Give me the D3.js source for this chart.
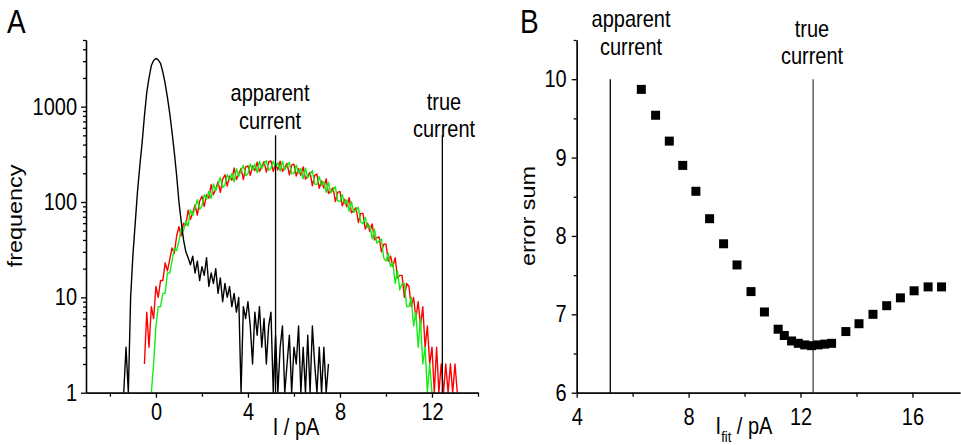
<!DOCTYPE html>
<html>
<head>
<meta charset="utf-8">
<script src="https://cdn.jsdelivr.net/npm/d3@7"></script>
<style>
  body { margin: 0; background: #fff; }
  svg { display: block; }
  text { font-family: "Liberation Sans", Arial, sans-serif; fill: #000; }
</style>
</head>
<body>
<div id="chart"></div>
<script>
/* Panel A: histograms, counts per 0.1 pA bin */
const blackStart = -1.4;
const blackCounts = [
  0, 3, 1, 10, 28, 60, 130, 240, 420, 800, 1400, 2000, 2700, 3050, 3200, 3100,
  2850, 2300, 1750, 1250, 850, 540, 330, 190, 100, 62, 40, 30, 26, 22,
  27, 18, 24, 15, 21, 17, 26, 13, 18, 14, 20, 11, 16, 9, 14, 10, 13, 8, 11, 7,
  10, 1, 8, 6, 9, 5, 2, 7, 4, 8, 3, 6, 2, 5, 7, 1, 4, 0, 3, 5,
  1, 2, 4, 0, 3, 2, 5, 0, 3, 1, 4, 0, 5, 2, 0, 3, 1, 3, 0, 2
];

const redStart = -0.5;
const redCounts = [
  2, 7, 3, 8, 6,
  13, 10, 15, 15, 23, 19, 25, 33, 29, 44,
  55, 44, 60, 57, 82, 66, 77, 93, 73, 102,
  115, 90, 119, 110, 152, 119, 138, 163, 126, 174,
  193, 147, 187, 169, 227, 172, 196, 225, 172, 232,
  240, 190, 239, 213, 262, 209, 235, 265, 206, 263,
  270, 209, 254, 217, 268, 209, 230, 254, 192, 243,
  249, 187, 223, 191, 233, 174, 188, 205, 148, 190,
  196, 139, 166, 140, 175, 123, 131, 141, 101, 126,
  129, 91, 107, 89, 111, 77, 82, 87, 61, 76,
  76, 52, 60, 49, 59, 40, 42, 43, 30, 36,
  36, 24, 27, 21, 26, 16, 17, 17, 10, 14,
  13, 8, 10, 6, 9, 5, 8, 3, 5, 2,
  3, 1, 3, 0, 2, 1, 2, 0, 2, 0, 2, 0
];

const greenStart = -0.2;
const greenCounts = [
  0, 2,
  5, 8, 8, 11, 11, 18, 18, 24, 33, 31,
  39, 53, 50, 63, 56, 83, 72, 87, 106, 84,
  90, 119, 107, 129, 109, 155, 131, 154, 181, 142,
  151, 194, 170, 199, 163, 224, 186, 213, 242, 189,
  198, 251, 217, 250, 202, 267, 223, 251, 272, 215,
  225, 268, 230, 260, 211, 267, 218, 240, 260, 198,
  200, 243, 201, 224, 175, 228, 179, 194, 214, 154,
  153, 184, 150, 164, 126, 161, 125, 133, 145, 103,
  101, 120, 97, 105, 80, 101, 78, 82, 88, 62,
  59, 69, 54, 57, 41, 52, 37, 39, 41, 26,
  24, 29, 21, 23, 14, 19, 12, 14, 14, 8,
  8, 10, 5, 7, 3, 6, 2, 3, 0, 2,
  0
];
const binWidth = 0.1;

const freqTicks = [1, 10, 100, 1000];
const currentTicksA = [0, 4, 8, 12];

/* Panel B: error sum vs fitted current */
const fitCurrent = [
  6.31, 6.82, 7.31, 7.79, 8.26, 8.75, 9.25, 9.73, 10.23, 10.71,
  11.2, 11.42, 11.68, 11.92, 12.15, 12.39, 12.63, 12.87, 13.11,
  13.62, 14.09, 14.59, 15.08, 15.57, 16.06, 16.56, 17.04
];
const errorSum = [
  9.87, 9.54, 9.21, 8.9, 8.57, 8.22, 7.9, 7.63, 7.29, 7.03,
  6.81, 6.73, 6.66, 6.63, 6.61, 6.6, 6.61, 6.62, 6.63,
  6.78, 6.88, 7.0, 7.11, 7.21, 7.3, 7.35, 7.35
];
const errorTicks = [6, 7, 8, 9, 10];
const currentTicksB = [4, 8, 12, 16];

const apparentCurrent = 5.2;
const trueCurrent = 12.45;

const width = 961;
const height = 445;
const stretch = 1.17; // text in the figure is a bit taller than wide

const svg = d3
  .select("#chart")
  .append("svg")
  .attr("width", width)
  .attr("height", height);

function addText(x, y, str, opts = {}) {
  const rot = opts.rotate ? " rotate(-90)" : "";
  return svg
    .append("text")
    .attr("transform", `translate(${x},${y}) scale(1,${stretch})${rot}`)
    .attr("text-anchor", opts.anchor || "middle")
    .attr("font-size", opts.size || 20)
    .text(str);
}

function styleAxis(g) {
  g.selectAll("path, line").attr("stroke", "#000").attr("stroke-width", 1.3);
  g.selectAll("text")
    .attr("font-size", 20)
    .attr("fill", "#000")
    .attr("font-family", null)
    .attr("transform", `scale(1,${stretch})`);
}

function toSeries(start, counts) {
  return counts.map((c, i) => ({ x: start + i * binWidth, y: Math.max(c, 1) }));
}

/* ---------- Panel A ---------- */
const xA = d3.scaleLinear().domain([-3.04, 14]).range([86, 478]);
const yA = d3.scaleLog().domain([1, 5000]).range([392.7, 40]);

svg
  .append("defs")
  .append("clipPath")
  .attr("id", "clipA")
  .append("rect")
  .attr("x", 86)
  .attr("y", 40)
  .attr("width", 392)
  .attr("height", 352.7);

const lineA = d3
  .line()
  .x((d) => xA(d.x))
  .y((d) => yA(d.y));

const curves = svg.append("g").attr("clip-path", "url(#clipA)");
[
  [toSeries(redStart, redCounts), "#ff0000"],
  [toSeries(greenStart, greenCounts), "#12ee12"],
  [toSeries(blackStart, blackCounts), "#000000"],
].forEach(([data, color]) => {
  curves
    .append("path")
    .datum(data)
    .attr("fill", "none")
    .attr("stroke", color)
    .attr("stroke-width", 1.4)
    .attr("stroke-linejoin", "round")
    .attr("d", lineA);
});

/* marker lines */
[apparentCurrent, trueCurrent].forEach((v) => {
  svg
    .append("line")
    .attr("x1", xA(v))
    .attr("x2", xA(v))
    .attr("y1", yA(500))
    .attr("y2", yA(1))
    .attr("stroke", "#000")
    .attr("stroke-width", 1.3);
});

/* minor ticks */
const minorLog = [];
[1, 10, 100, 1000].forEach((p) => {
  for (let k = 2; k <= 9; k++) if (p * k <= 5000) minorLog.push(p * k);
});
svg
  .append("g")
  .attr("transform", "translate(86,0)")
  .call(d3.axisLeft(yA).tickValues(minorLog).tickSize(3).tickFormat("").tickSizeOuter(0))
  .call(styleAxis);
svg
  .append("g")
  .attr("transform", "translate(0,392.7)")
  .call(d3.axisBottom(xA).tickValues([-2, 2, 6, 10, 14]).tickSize(4).tickFormat("").tickSizeOuter(0))
  .call(styleAxis);

svg
  .append("g")
  .attr("transform", "translate(86,0)")
  .call(d3.axisLeft(yA).tickValues(freqTicks).tickFormat(d3.format("d")).tickSize(5).tickPadding(4).tickSizeOuter(0))
  .call(styleAxis);
svg
  .append("g")
  .attr("transform", "translate(0,392.7)")
  .call(d3.axisBottom(xA).tickValues(currentTicksA).tickSize(5).tickPadding(4).tickSizeOuter(0))
  .call(styleAxis);

addText(7, 33, "A", { anchor: "start", size: 28 });
addText(270, 101, "apparent");
addText(270, 129, "current");
addText(444, 110, "true");
addText(444, 137, "current");
addText(296, 435, "I / pA");
addText(21.5, 216, "frequency", { rotate: true });

/* ---------- Panel B ---------- */
const xB = d3.scaleLinear().domain([4, 17.7]).range([576.7, 960]);
const yB = d3.scaleLinear().domain([6, 10.5]).range([392.7, 40]);

[apparentCurrent, trueCurrent].forEach((v) => {
  svg
    .append("line")
    .attr("x1", xB(v))
    .attr("x2", xB(v))
    .attr("y1", yB(10))
    .attr("y2", yB(6))
    .attr("stroke", v === trueCurrent ? "#444" : "#000")
    .attr("stroke-width", 1.3);
});

const sq = 9;
svg
  .append("g")
  .selectAll("rect")
  .data(fitCurrent.map((x, i) => ({ x, y: errorSum[i] })))
  .join("rect")
  .attr("x", (d) => xB(d.x) - sq / 2)
  .attr("y", (d) => yB(d.y) - sq / 2)
  .attr("width", sq)
  .attr("height", sq)
  .attr("fill", "#000");

svg
  .append("g")
  .attr("transform", "translate(576.7,0)")
  .call(d3.axisLeft(yB).tickValues([6.5, 7.5, 8.5, 9.5, 10.5]).tickSize(3).tickFormat("").tickSizeOuter(0))
  .call(styleAxis);
svg
  .append("g")
  .attr("transform", "translate(0,392.7)")
  .call(d3.axisBottom(xB).tickValues([6, 10, 14]).tickSize(4).tickFormat("").tickSizeOuter(0))
  .call(styleAxis);

svg
  .append("g")
  .attr("transform", "translate(576.7,0)")
  .call(d3.axisLeft(yB).tickValues(errorTicks).tickFormat(d3.format("d")).tickSize(5).tickPadding(5).tickSizeOuter(0))
  .call(styleAxis);
svg
  .append("g")
  .attr("transform", "translate(0,392.7)")
  .call(d3.axisBottom(xB).tickValues(currentTicksB).tickSize(5).tickPadding(8).tickSizeOuter(0))
  .call(styleAxis);

addText(520, 33, "B", { anchor: "start", size: 28 });
addText(631, 27, "apparent");
addText(631, 55, "current");
addText(812, 37, "true");
addText(812, 64, "current");
addText(535, 216, "error sum", { rotate: true });

/* I_fit / pA */
const tB = addText(744, 434, "I");
tB.append("tspan").attr("dy", 6.5).attr("font-size", 13).text("fit");
tB.append("tspan").attr("dy", -6.5).text(" / pA");
</script>
</body>
</html>
